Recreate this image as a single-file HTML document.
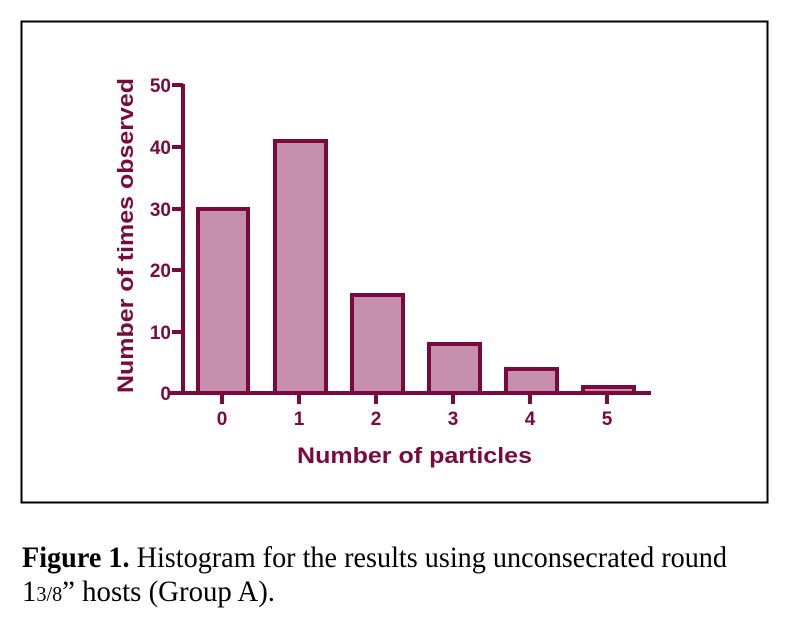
<!DOCTYPE html>
<html><head><meta charset="utf-8"><style>
html,body{margin:0;padding:0;background:#fff;width:790px;height:626px;overflow:hidden}
</style></head><body>
<svg width="790" height="626" viewBox="0 0 790 626" xmlns="http://www.w3.org/2000/svg">
<rect x="21.5" y="21.5" width="746" height="481" fill="none" stroke="#000" stroke-width="2"/>
<g fill="#c68fab" stroke="#7a0a3e" stroke-width="4">
<rect x="198" y="209" width="50" height="184"/>
<rect x="275" y="141" width="51" height="252"/>
<rect x="352" y="295" width="51" height="98"/>
<rect x="429" y="344" width="51" height="49"/>
<rect x="506" y="369" width="51" height="24"/>
<rect x="583" y="387" width="51" height="6"/>
</g>
<g stroke="#7a0a3e" stroke-width="4" fill="none">
<line x1="183" y1="84" x2="183" y2="395"/>
<line x1="170" y1="393" x2="651" y2="393"/>
<line x1="172" y1="85" x2="183" y2="85"/>
<line x1="172" y1="147" x2="183" y2="147"/>
<line x1="172" y1="209" x2="183" y2="209"/>
<line x1="172" y1="270" x2="183" y2="270"/>
<line x1="172" y1="332" x2="183" y2="332"/>
<line x1="222" y1="393" x2="222" y2="404"/>
<line x1="299" y1="393" x2="299" y2="404"/>
<line x1="376" y1="393" x2="376" y2="404"/>
<line x1="453" y1="393" x2="453" y2="404"/>
<line x1="530" y1="393" x2="530" y2="404"/>
<line x1="607" y1="393" x2="607" y2="404"/>
</g>
<g fill="#7a0a3e" font-family="Liberation Sans, sans-serif" font-weight="bold" font-size="19">
<g text-anchor="end">
<text x="171" y="92">50</text><text x="171" y="154">40</text><text x="171" y="216">30</text>
<text x="171" y="277">20</text><text x="171" y="339">10</text><text x="171" y="400">0</text>
</g>
<g text-anchor="middle">
<text x="222" y="425">0</text><text x="299" y="425">1</text><text x="376" y="425">2</text>
<text x="453" y="425">3</text><text x="530" y="425">4</text><text x="607" y="425">5</text>
</g>
<text x="297" y="463" font-size="22" textLength="235" lengthAdjust="spacingAndGlyphs">Number of particles</text>
<text transform="translate(133,393) rotate(-90)" font-size="22" textLength="315" lengthAdjust="spacingAndGlyphs">Number of times observed</text>
</g>
<g font-family="Liberation Serif, serif" font-size="30" fill="#000">
<text x="22" y="567" textLength="705" lengthAdjust="spacingAndGlyphs"><tspan font-weight="bold">Figure 1.</tspan> Histogram for the results using unconsecrated round</text>
<text x="22" y="601" textLength="253" lengthAdjust="spacingAndGlyphs">1<tspan font-size="21">3/8</tspan>” hosts (Group A).</text>
</g>
</svg>
</body></html>
